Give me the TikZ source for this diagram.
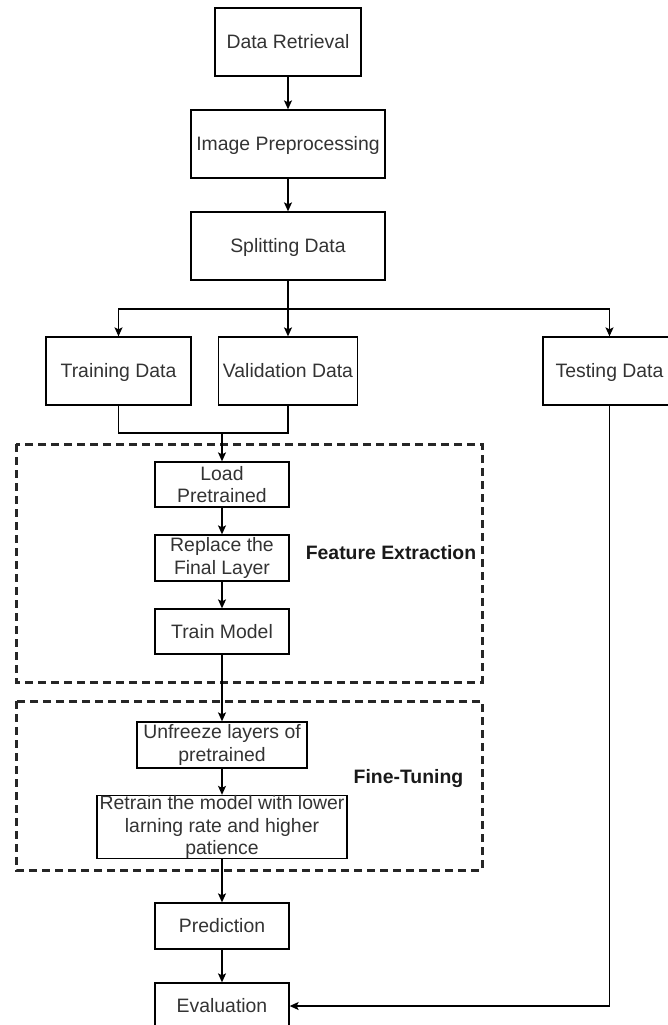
\documentclass[tikz,border=0pt]{standalone}
\usepackage{fontspec}
\setmainfont{Liberation Sans}
\usetikzlibrary{arrows.meta}

\begin{document}
\begin{tikzpicture}[x=1pt, y=-1pt,
  stepbox/.style={draw=black, line width=1.3pt, fill=white, inner sep=0pt, align=center, text=black!80, font=\fontsize{19.4}{22.5}\selectfont},
  oneline/.style={text height=17pt, text depth=3.4pt},
  arr/.style={line width=1.3pt, -{Stealth[length=9pt, width=8pt, inset=2pt]}},
  ln/.style={line width=1.3pt},
  group/.style={draw=black!85, line width=3pt, dash pattern=on 8pt off 5pt},
  grouptext/.style={font=\fontsize{19.4}{22.5}\selectfont\bfseries, text=black!90}]
\useasboundingbox (0,0) rectangle (667,1025);
\draw[group] (16,444) rectangle (482,682);
\draw[group] (16,701) rectangle (482,870);
\node[grouptext] (fetxt) at (391,553) {Feature Extraction};
\node[grouptext] (fttxt) at (408.5,779) {Fine-Tuning};
\node[stepbox, oneline, minimum width=146pt, minimum height=68pt] (ret) at (288,42) {Data Retrieval};
\node[stepbox, oneline, minimum width=194pt, minimum height=68pt] (pre) at (288,144) {Image Preprocessing};
\node[stepbox, oneline, minimum width=194pt, minimum height=68pt] (split) at (288,246) {Splitting Data};
\node[stepbox, oneline, minimum width=145pt, minimum height=68pt] (train) at (118.5,371) {Training Data};
\node[stepbox, oneline, minimum width=139pt, minimum height=68pt] (valid) at (288,371) {Validation Data};
\node[stepbox, oneline, minimum width=133pt, minimum height=68pt] (test) at (609.5,371) {Testing Data};
\node[stepbox, minimum width=134pt, minimum height=45pt] (load) at (222,484.5) {Load\\Pretrained};
\node[stepbox, minimum width=134pt, minimum height=46pt] (repl) at (222,558) {Replace the\\Final Layer};
\node[stepbox, oneline, minimum width=134pt, minimum height=45pt] (trmod) at (222,631.5) {Train Model};
\node[stepbox, minimum width=170pt, minimum height=46pt] (unfr) at (222,745) {Unfreeze layers of\\pretrained};
\node[stepbox, minimum width=250pt, minimum height=62pt] (retr) at (222,827) {Retrain the model with lower\\larning rate and higher\\patience};
\node[stepbox, oneline, minimum width=134pt, minimum height=46pt] (pred) at (222,926) {Prediction};
\node[stepbox, oneline, minimum width=134pt, minimum height=46pt] (eval) at (222,1006) {Evaluation};
\coordinate (br) at (288,309);
\coordinate (mg) at (222,433);
\draw[arr] (ret) -- (pre);
\draw[arr] (pre) -- (split);
\draw[arr] (split.south) -- (valid.north);
\draw[arr] (br) -| (train.north);
\draw[arr] (br) -| (test.north);
\draw[ln] (train.south) |- (mg) -| (valid.south);
\draw[arr] (mg) -- (load.north);
\draw[arr] (load) -- (repl);
\draw[arr] (repl) -- (trmod);
\draw[arr] (trmod) -- (unfr);
\draw[arr] (unfr) -- (retr);
\draw[arr] (retr) -- (pred);
\draw[arr] (pred) -- (eval);
\draw[arr] (test.south) |- (eval.east);
\end{tikzpicture}
\end{document}
